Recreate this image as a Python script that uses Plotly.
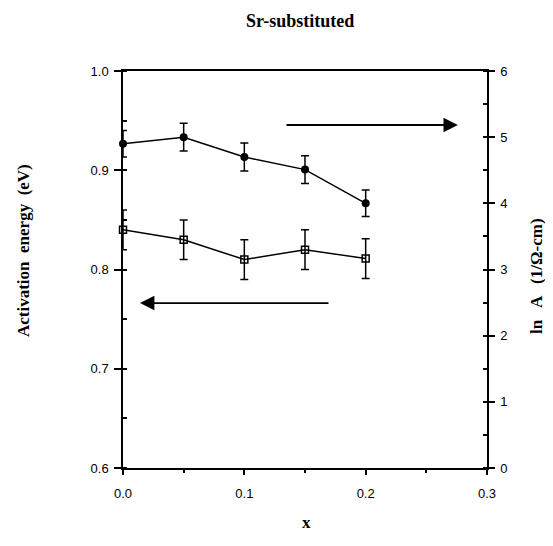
import plotly.graph_objects as go

x_vals = [0.0, 0.05, 0.1, 0.15, 0.2]
ln_a = [4.90, 5.00, 4.70, 4.51, 4.00]
ln_a_err = [0.2, 0.21, 0.21, 0.21, 0.2]
act_energy = [0.840, 0.830, 0.810, 0.820, 0.811]
act_energy_err = [0.02, 0.02, 0.02, 0.02, 0.02]

serif = "Liberation Serif, Times New Roman, serif"
sans = "Liberation Sans, Arial, sans-serif"

# target pixel geometry (page coords); page body margin of 8px
OFF = 8
PL, PR, PT, PB = 123, 487, 71, 468
W, H = 553 - 2 * OFF, 546 - 2 * OFF
ml, mt = PL - OFF, PT - OFF
mr = W - (PR - OFF)
mb = H - (PB - OFF)


def px(x):
    return (x - PL) / (PR - PL)


def py(y):
    return 1 - (y - PT) / (PB - PT)


fig = go.Figure()
fig.add_trace(go.Scatter(
    x=x_vals, y=act_energy, mode="lines+markers", yaxis="y",
    line=dict(color="black", width=1.5),
    marker=dict(symbol="square-open", size=7, color="black", line=dict(width=1.5)),
    error_y=dict(type="data", array=act_energy_err, color="black", thickness=1.5, width=4),
    cliponaxis=False, showlegend=False))
fig.add_trace(go.Scatter(
    x=x_vals, y=ln_a, mode="lines+markers", yaxis="y2",
    line=dict(color="black", width=1.5),
    marker=dict(symbol="circle", size=8, color="black"),
    error_y=dict(type="data", array=ln_a_err, color="black", thickness=1.5, width=4),
    cliponaxis=False, showlegend=False))

# arrows
fig.add_annotation(x=0.276, y=0.9456, ax=0.1335, ay=0.9456, xref="x", yref="y", axref="x", ayref="y",
                   showarrow=True, arrowhead=2, arrowsize=1.6, arrowwidth=1.8, arrowcolor="black", text="")
fig.add_annotation(x=0.014, y=0.7662, ax=0.1706, ay=0.7662, xref="x", yref="y", axref="x", ayref="y",
                   showarrow=True, arrowhead=2, arrowsize=1.6, arrowwidth=1.8, arrowcolor="black", text="")

# titles
fig.add_annotation(text="<b>Sr-substituted</b>", xref="paper", yref="paper", x=px(300), y=py(21),
                   showarrow=False, xanchor="center", yanchor="middle",
                   font=dict(family=serif, size=18, color="black"))
fig.add_annotation(text="<b>Activation  energy  (eV)</b>", xref="paper", yref="paper", x=px(23), y=py(250),
                   showarrow=False, textangle=-90, xanchor="center", yanchor="middle",
                   font=dict(family=serif, size=17, color="black"))
fig.add_annotation(text="<b>ln   A   (1/Ω-cm)</b>", xref="paper", yref="paper", x=px(536), y=py(276),
                   showarrow=False, textangle=-90, xanchor="center", yanchor="middle",
                   font=dict(family=serif, size=17, color="black"))
fig.add_annotation(text="<b>x</b>", xref="paper", yref="paper", x=px(306), y=py(522),
                   showarrow=False, xanchor="center", yanchor="middle",
                   font=dict(family=serif, size=17, color="black"))

fig.update_layout(
    width=W, height=H,
    margin=dict(l=ml, r=mr, t=mt, b=mb, autoexpand=False),
    paper_bgcolor="white", plot_bgcolor="white",
    xaxis=dict(range=[0, 0.3], dtick=0.1, tickformat=".1f", showgrid=False, zeroline=False,
               showline=True, linecolor="black", linewidth=1.5, mirror=True,
               ticks="outside", ticklen=5, tickwidth=1.5, tickcolor="black",
               minor=dict(dtick=0.05, ticks="outside", ticklen=3, tickcolor="black"),
               ticklabelstandoff=8,
               tickfont=dict(family=sans, size=13, color="black")),
    yaxis=dict(range=[0.6, 1.0], dtick=0.1, tickformat=".1f", showgrid=False, zeroline=False,
               showline=True, linecolor="black", linewidth=1.5,
               ticks="outside", ticklen=7, tickwidth=1.5, tickcolor="black",
               minor=dict(dtick=0.05, ticks="inside", ticklen=4, tickcolor="black"),
               ticklabelstandoff=3,
               tickfont=dict(family=sans, size=13, color="black")),
    yaxis2=dict(range=[0, 6], dtick=1, overlaying="y", side="right", showgrid=False, zeroline=False,
                showline=True, linecolor="black", linewidth=1.5,
                ticks="outside", ticklen=6, tickwidth=1.5, tickcolor="black",
                minor=dict(dtick=0.5, ticks="inside", ticklen=4, tickcolor="black"),
                ticklabelstandoff=3,
                tickfont=dict(family=sans, size=13, color="black")),
)

fig.write_html("out.html")
